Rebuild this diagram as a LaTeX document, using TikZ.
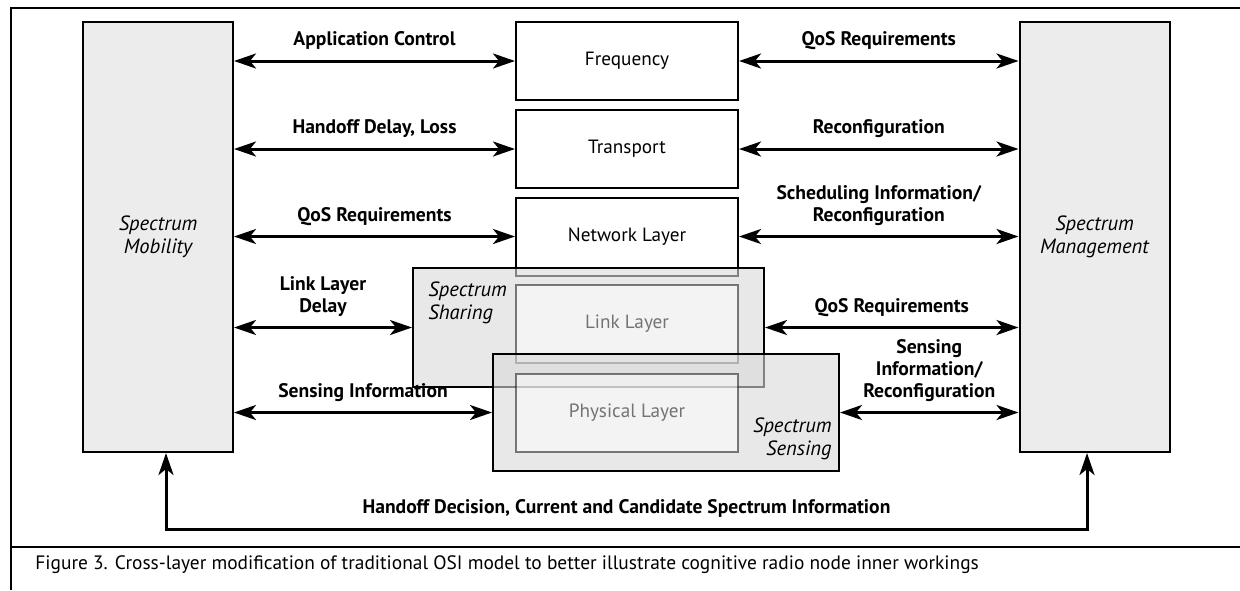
\documentclass[tikz,border=0pt]{standalone}
\usepackage{fontspec}
\setmainfont{PT Sans}
\usetikzlibrary{arrows.meta}
\definecolor{boxgray}{gray}{0.925}
\tikzset{
	layer/.style={draw, line width=1pt, fill=white, minimum width=111pt, minimum height=39pt, font=\fontsize{9.6}{11}\selectfont},
	ghost/.style={layer, draw opacity=.5, fill opacity=.5, text opacity=1, text=black!55},
	spec/.style={draw, line width=1pt, fill=boxgray, minimum width=75pt, minimum height=215pt, align=center, font=\fontsize{10.3}{11.5}\selectfont\itshape},
	shade/.style={draw, line width=1pt, fill=black!15, fill opacity=.6},
	speclbl/.style={align=left, inner sep=0pt, font=\fontsize{10.3}{11.5}\selectfont\itshape},
	lbl/.style={font=\fontsize{9.8}{11}\selectfont\bfseries, align=center, text depth=.25em, inner sep=2pt, above=2.5pt},
	twoway/.style={line width=1.5pt, {Stealth[length=11pt,width=7.5pt,inset=3pt]}-{Stealth[length=11pt,width=7.5pt,inset=3pt]}}
}
\begin{document}
\begin{tikzpicture}[x=0.5pt, y=-0.5pt]
	\useasboundingbox (0,0) rectangle (1240,590);
	\draw[line width=1pt] (1240,8) -- (11,8) -- (11,590);
	\draw[line width=1pt] (11,547) -- (1240,547);
	\node[anchor=base west, inner sep=0pt, font=\fontsize{9.7}{11}\selectfont] (caption) at (35,569) {Figure 3. Cross-layer modification of traditional OSI model to better illustrate cognitive radio node inner workings};

	\node[spec] (mob) at (158,237) {Spectrum\\Mobility};
	\node[spec] (mgmt) at (1094.5,237) {Spectrum\\Management};
	\node[layer] (freq) at (627,61) {Frequency};
	\node[layer] (trans) at (627,149) {Transport};
	\node[layer] (net) at (627,236.5) {Network Layer};
	\node[shade, minimum width=175.5pt, minimum height=59.5pt] (share) at (588.5,327.5) {};
	\node[ghost] (link) at (627,324) {Link Layer};
	\node[shade, minimum width=173pt, minimum height=58.5pt] (sense) at (666,412.5) {};
	\node[ghost] (phys) at (627,412.5) {Physical Layer};
	\node[speclbl, anchor=north west] (sharetxt) at ([shift={(8pt,-7pt)}]share.north west) {Spectrum\\Sharing};
	\node[speclbl, align=right, anchor=south east] (sensetxt) at ([shift={(-4pt,6pt)}]sense.south east) {Spectrum\\Sensing};

	\draw[twoway] (mob.east |- freq.west) -- (freq.west) node[lbl, midway] {Application Control};
	\draw[twoway] (mob.east |- trans.west) -- (trans.west) node[lbl, midway] {Handoff Delay, Loss};
	\draw[twoway] (mob.east |- net.west) -- (net.west) node[lbl, midway] {QoS Requirements};
	\draw[twoway] (mob.east |- share.west) -- (share.west) node[lbl, midway] {Link Layer\\Delay};
	\draw[twoway] (mob.east |- sense.west) -- (sense.west) node[lbl, midway] {Sensing Information};
	\draw[twoway] (freq.east) -- (freq.east -| mgmt.west) node[lbl, midway] {QoS Requirements};
	\draw[twoway] (trans.east) -- (trans.east -| mgmt.west) node[lbl, midway] {Reconfiguration};
	\draw[twoway] (net.east) -- (net.east -| mgmt.west) node[lbl, midway] {Scheduling Information/\\Reconfiguration};
	\draw[twoway] (share.east) -- (share.east -| mgmt.west) node[lbl, midway] {QoS Requirements};
	\draw[twoway] (sense.east) -- (sense.east -| mgmt.west) node[lbl, midway] {Sensing\\Information/\\Reconfiguration};
	\draw[twoway] ([xshift=4pt]mob.south) -- ++(0,76) -| ([xshift=-3.75pt]mgmt.south) node[lbl, pos=.25] {Handoff Decision, Current and Candidate Spectrum Information};
\end{tikzpicture}
\end{document}
